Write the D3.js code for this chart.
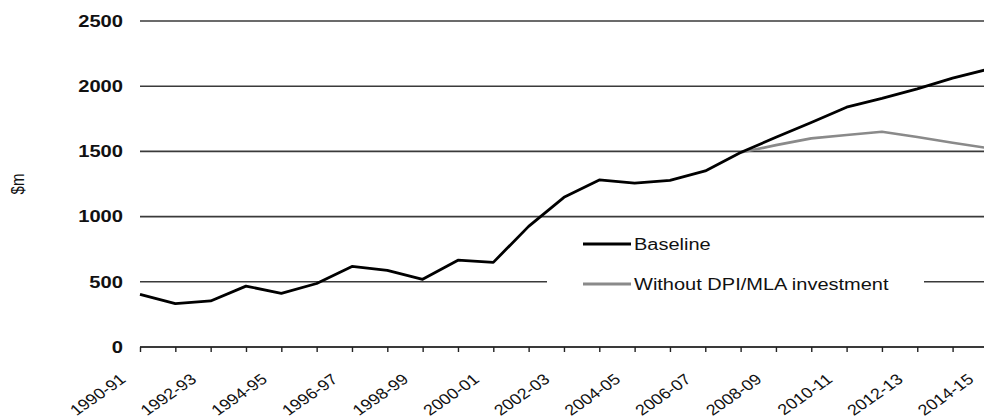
<!DOCTYPE html>
<html><head><meta charset="utf-8">
<script src="https://cdn.jsdelivr.net/npm/d3@7"></script>
<style>
html,body{margin:0;padding:0;background:#fff;overflow:hidden}
text{font-family:"Liberation Sans",Arial,sans-serif;fill:#111}
</style></head>
<body>
<svg id="c" width="984" height="419"></svg>
<script>
const categories = ["1990-91","1991-92","1992-93","1993-94","1994-95","1995-96","1996-97","1997-98","1998-99","1999-00","2000-01","2001-02","2002-03","2003-04","2004-05","2005-06","2006-07","2007-08","2008-09","2009-10","2010-11","2011-12","2012-13","2013-14","2014-15"];
const baseline = [404,333,353,467,411,487,618,588,519,666,649,925,1148,1281,1256,1278,1350,1491,1608,1722,1839,1906,1980,2062,2130];
const withoutDPI = [null,null,null,null,null,null,null,null,null,null,null,null,null,null,null,null,null,1491,1548,1600,1626,1651,1610,1567,1525];
const yTicks = [0,500,1000,1500,2000,2500];
const seriesNames = ["Baseline","Without DPI/MLA investment"];
const yTitle = "$m";

const svg = d3.select("#c");
const x = d3.scalePoint().domain(categories).range([140, 140 + 24*35.33]);
const y = d3.scaleLinear().domain([0,2500]).range([347,21]);

// gridlines
svg.append("g").selectAll("line").data(yTicks.filter(d=>d>0)).join("line")
  .attr("x1",140).attr("x2",990).attr("y1",d=>y(d)).attr("y2",d=>y(d))
  .attr("stroke","#3a3a3a").attr("stroke-width",1.6);

// x axis
const xa = svg.append("g").attr("transform",`translate(0,${y(0)})`)
  .call(d3.axisBottom(x).tickSize(5).tickSizeOuter(0).tickFormat(""));
xa.select(".domain").attr("stroke","#3a3a3a").attr("stroke-width",1.8).attr("d","M140,0H990");
xa.selectAll(".tick line").attr("stroke","#222").attr("stroke-width",1.4);

// x labels
svg.append("g").selectAll("text").data(categories.filter((d,i)=>i%2===0)).join("text")
  .attr("transform",d=>`translate(${x(d)-13},${y(0)+34}) scale(1.2,1) rotate(-40)`)
  .attr("text-anchor","end")
  .style("font-size","15px").text(d=>d);

// y labels
svg.append("g").selectAll("text").data(yTicks).join("text")
  .attr("transform",d=>`translate(123,${y(d)}) scale(1.26,1)`)
  .attr("text-anchor","end").attr("dy","0.36em")
  .style("font-size","16px").style("font-weight","bold").text(d=>d);

// y title
svg.append("text").attr("transform","translate(24,184) rotate(-90) scale(1,1.2)")
  .attr("text-anchor","middle").style("font-size","15px").text(yTitle);

// legend background
svg.append("rect").attr("x",547).attr("y",228).attr("width",377).attr("height",70).attr("fill","#fff");

const line = d3.line().defined(d=>d.v!=null).x(d=>x(d.c)).y(d=>y(d.v));
const mk = arr => categories.map((c,i)=>({c, v:arr[i]}));

svg.append("path").datum(mk(withoutDPI)).attr("d",line)
  .attr("fill","none").attr("stroke","#8a8a8a").attr("stroke-width",2.6).attr("stroke-linejoin","round");
svg.append("path").datum(mk(baseline)).attr("d",line)
  .attr("fill","none").attr("stroke","#000").attr("stroke-width",2.8).attr("stroke-linejoin","round");

// legend
const leg = [{n:seriesNames[0],c:"#000",y:244},{n:seriesNames[1],c:"#8a8a8a",y:284}];
const lg = svg.append("g");
lg.selectAll("line").data(leg).join("line")
  .attr("x1",583).attr("x2",631).attr("y1",d=>d.y).attr("y2",d=>d.y)
  .attr("stroke",d=>d.c).attr("stroke-width",2.8);
lg.selectAll("text").data(leg).join("text")
  .attr("transform",d=>`translate(634,${d.y}) scale(1.25,1)`)
  .attr("dy","0.36em").style("font-size","16px").text(d=>d.n);
</script>
</body></html>
